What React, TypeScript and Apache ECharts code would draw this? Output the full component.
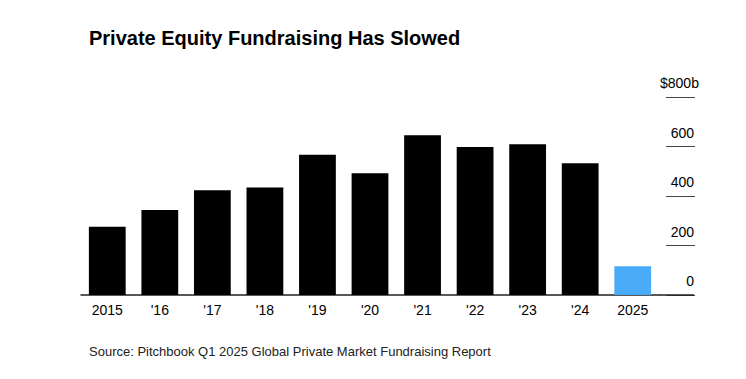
import React, { useEffect, useRef } from "react";
import * as echarts from "echarts";

const categories = ["2015", "'16", "'17", "'18", "'19", "'20", "'21", "'22", "'23", "'24", "2025"];
const values = [276, 343, 423, 434, 567, 492, 645, 598, 609, 532, 116];
const highlightIndex = 10;
const yTicks = [0, 200, 400, 600, 800];

const FONT = "'Liberation Sans', Arial, Helvetica, sans-serif";

export default function App() {
  const ref = useRef<HTMLDivElement>(null);
  useEffect(() => {
    document.body.style.margin = "0";
    if (!ref.current) return;
    const chart = echarts.init(ref.current, undefined, { renderer: "svg" });
    const gridLeft = 81;
    const gridRight = 87;
    const gridTop = 97;
    const gridBottom = 84;
    const width = 746;
    const height = 379;
    const baseY = height - gridBottom;
    const plotRight = width - gridRight;
    chart.setOption({
      animation: false,
      backgroundColor: "#ffffff",
      textStyle: { fontFamily: FONT },
      title: {
        text: "Private Equity Fundraising Has Slowed",
        left: 89,
        top: 28,
        padding: 0,
        textStyle: { fontFamily: FONT, fontSize: 20, fontWeight: "bold", color: "#000" },
      },
      grid: { left: gridLeft, right: gridRight, top: gridTop, bottom: gridBottom, containLabel: false },
      xAxis: {
        type: "category",
        data: categories,
        axisLine: { show: true, lineStyle: { color: "#222", width: 1.5 } },
        axisTick: { show: false },
        axisLabel: { color: "#000", fontSize: 14, fontFamily: FONT, margin: 8 },
      },
      yAxis: {
        type: "value",
        position: "right",
        offset: 7,
        min: 0,
        max: yTicks[yTicks.length - 1],
        interval: 200,
        splitLine: { show: false },
        axisLine: { show: false },
        axisTick: { show: true, length: 29, lineStyle: { color: "#444", width: 1 } },
        axisLabel: {
          color: "#000",
          fontSize: 14,
          fontFamily: FONT,
          align: "right",
          verticalAlign: "bottom",
          lineHeight: 28,
          margin: 28,
          formatter: (v: number) => (v === 800 ? "" : String(v)),
        },
      },
      graphic: [
        {
          type: "line",
          shape: { x1: plotRight, y1: baseY, x2: plotRight + 35, y2: baseY },
          style: { stroke: "#222", lineWidth: 1.5 },
          z: 10,
        },
        {
          type: "text",
          x: 660,
          y: 83,
          style: {
            text: "$800b",
            fill: "#000",
            font: `14px ${FONT}`,
            verticalAlign: "middle",
          },
        },
        {
          type: "text",
          x: 89,
          y: 351,
          style: {
            text: "Source: Pitchbook Q1 2025 Global Private Market Fundraising Report",
            fill: "#222",
            font: `13px ${FONT}`,
            verticalAlign: "middle",
          },
        },
      ],
      series: [
        {
          type: "bar",
          barWidth: "70%",
          data: values.map((v, i) => ({
            value: v,
            itemStyle: { color: i === highlightIndex ? "#4aacf8" : "#000000" },
          })),
        },
      ],
    });
    return () => chart.dispose();
  }, []);
  return <div ref={ref} style={{ width: 746, height: 379 }} />;
}
